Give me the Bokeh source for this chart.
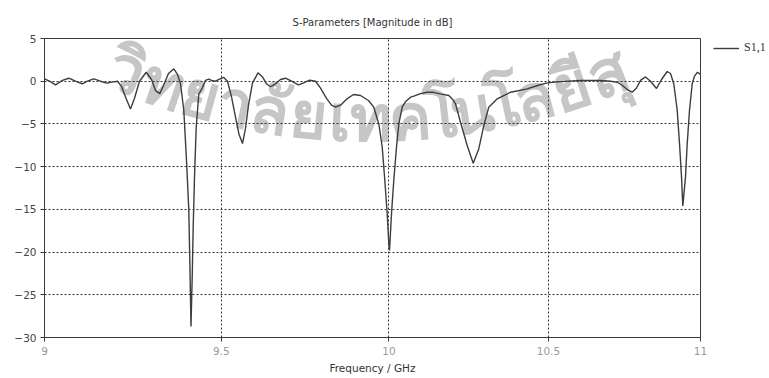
import numpy as np
from bokeh.plotting import figure
from bokeh.models import (FixedTicker, CustomJSTickFormatter, Legend, LegendItem,
                          Range1d, Label)
from bokeh.embed import file_html
from bokeh.resources import INLINE

# S1,1 magnitude (dB) versus frequency (GHz)
freq_ghz = [9.0000, 9.0138, 9.0303, 9.0497, 9.0672, 9.0858, 9.1044, 9.1192, 9.1368, 9.1555,
            9.1732, 9.1864, 9.2032, 9.2145, 9.2272, 9.2399, 9.2512, 9.2654, 9.2844, 9.2995,
            9.3109, 9.3231, 9.3337, 9.3480, 9.3631, 9.3737, 9.3823, 9.3918, 9.3996, 9.4062,
            9.4091, 9.4125, 9.4160, 9.4188, 9.4226, 9.4275, 9.4350, 9.4448, 9.4544, 9.4639,
            9.4746, 9.4833, 9.4949, 9.5066, 9.5182, 9.5298, 9.5415, 9.5517, 9.5620, 9.5708,
            9.5795, 9.5913, 9.6074, 9.6207, 9.6324, 9.6442, 9.6590, 9.6738, 9.6886, 9.7064,
            9.7272, 9.7421, 9.7600, 9.7779, 9.7929, 9.8109, 9.8259, 9.8379, 9.8530, 9.8711,
            9.8922, 9.9134, 9.9377, 9.9538, 9.9691, 9.9795, 9.9874, 9.9947, 9.9996, 10.0018,
            10.0079, 10.0149, 10.0232, 10.0303, 10.0407, 10.0508, 10.0662, 10.0764, 10.0971, 10.1178,
            10.1373, 10.1590, 10.1849, 10.1964, 10.2058, 10.2214, 10.2423, 10.2612, 10.2788, 10.2945,
            10.3102, 10.3368, 10.3789, 10.4321, 10.4650, 10.4961, 10.5389, 10.6036, 10.6686, 10.7013,
            10.7233, 10.7407, 10.7571, 10.7726, 10.7868, 10.8000, 10.8165, 10.8331, 10.8530, 10.8696,
            10.8885, 10.8995, 10.9105, 10.9219, 10.9296, 10.9363, 10.9406, 10.9497, 10.9554, 10.9631,
            10.9721, 10.9798, 10.9899, 11.0000]

s11_db = [0.28, 0.0, -0.42, 0.1, 0.35, 0.0, -0.3, 0.0, 0.28, 0.0,
          -0.23, -0.1, 0.0, -0.6, -2.0, -3.25, -2.0, 0.0, 1.05, 0.2,
          -1.1, -1.45, -0.5, 0.9, 1.45, 0.8, -0.3, -3.4, -9.3, -15.1,
          -21.0, -28.7, -22.9, -17.1, -11.2, -5.4, -1.5, -0.8, 0.1, 0.25,
          0.05, 0.0, 0.25, 0.45, 0.0, -1.8, -4.2, -6.2, -7.3, -5.5,
          -2.8, -0.2, 0.98, 0.5, -0.3, -0.65, -0.3, 0.2, 0.35, 0.0,
          -0.42, -0.2, 0.12, 0.0, -0.8, -2.0, -2.8, -3.04, -2.8, -2.1,
          -1.55, -1.67, -2.26, -3.04, -5.0, -7.7, -11.6, -15.5, -19.0, -19.8,
          -15.5, -11.6, -7.7, -5.0, -3.04, -2.4, -1.87, -1.75, -1.45, -1.29,
          -1.3, -1.48, -1.67, -2.1, -2.65, -4.8, -7.53, -9.6, -7.9, -5.19,
          -3.04, -2.06, -1.29, -0.89, -0.5, -0.2, -0.05, 0.08, 0.08, 0.0,
          -0.12, -0.5, -1.0, -1.29, -0.8, 0.1, 0.5, 0.0, -0.85, 0.2,
          1.14, 0.9, -0.3, -3.4, -7.3, -11.2, -14.6, -11.2, -7.3, -3.4,
          -0.3, 0.6, 1.05, 0.8]

x_ticks = [9, 9.5, 10, 10.5, 11]
y_ticks = [5, 0, -5, -10, -15, -20, -25, -30]
series_name = "S1,1"
title_text = "S-Parameters [Magnitude in dB]"
x_label = "Frequency / GHz"
watermark_text = ["ม", "ห", "า", "วิ", "ท", "ย", "า", "ลั", "ย", "เ", "ท", "ค",
                  "โ", "น", "โ", "ล", "ยี", "สุ", "ร", "น", "า", "รี"]

FONT = "DejaVu Sans"
X0, X1, Y0, Y1 = 9.0, 11.0, -30.0, 5.0
FL, FR, FT, FB = 44, 700, 38, 337          # frame edges in page pixels
W, H = 768, 377

p = figure(frame_width=FR - FL, frame_height=FB - FT, x_axis_type="log",
           x_range=Range1d(X0, X1), y_range=Range1d(Y0, Y1),
           output_backend="svg", toolbar_location=None,
           min_border_left=FL, min_border_right=W - FR,
           min_border_top=FT, min_border_bottom=H - FB,
           title=title_text)

p.background_fill_color = "white"
p.border_fill_color = "white"
p.outline_line_color = "#3a3a3a"
p.outline_line_width = 1

# ---- light watermark of the source document (behind grid and curve) ----
widths = np.array([1.0 if c[0] not in "าเโ" else (0.8 if c[0] == "า" else 0.6)
                   for c in watermark_text])
cum = np.cumsum(widths) - widths / 2
cx, cy, rad = 370.0, -523.0, 639.0
th0 = np.arcsin((14 - cx) / rad)
unit = 39.0
for ch, s in zip(watermark_text, cum):
    th = th0 + s * unit / rad
    gx = cx + rad * np.sin(th)
    gy = cy + rad * np.cos(th)
    if gx < FL + 40 or gx > FR - 40 or gy < FT + 18:
        continue
    p.add_layout(Label(x=float(gx - FL), y=float(FB - gy), x_units="screen", y_units="screen",
                       text=ch, angle=float(th),
                       text_align="center", text_baseline="middle",
                       text_font="Noto Sans", text_font_size="64px",
                       text_font_style="bold", text_color="#c6c6c6",
                       text_alpha=1.0, level="image"))

# ---- title ----
p.title.align = "center"
p.title.text_font = FONT
p.title.text_font_size = "10px"
p.title.text_font_style = "normal"
p.title.text_color = "#333333"
p.title.standoff = 22

# ---- x axis (logarithmic frequency axis) ----
xt = FixedTicker(ticks=x_ticks, minor_ticks=[])
xax = p.xaxis[0]
xax.ticker = xt
xax.formatter = CustomJSTickFormatter(code="return tick.toString();")
xax.axis_line_color = "#3a3a3a"
xax.major_tick_line_color = "#3a3a3a"
xax.major_tick_out = 4
xax.major_tick_in = 0
xax.minor_tick_line_color = None
xax.major_label_text_font = FONT
xax.major_label_text_font_size = "10.5px"
xax.major_label_text_color = "#999999"
xax.major_label_standoff = 5
xax.axis_label = x_label
xax.axis_label_text_font = FONT
xax.axis_label_text_font_size = "10.5px"
xax.axis_label_text_font_style = "normal"
xax.axis_label_text_color = "#333333"
xax.axis_label_standoff = 4

# ---- y axis ----
yt = FixedTicker(ticks=y_ticks, minor_ticks=[])
yax = p.yaxis[0]
yax.ticker = yt
yax.axis_line_color = "#3a3a3a"
yax.major_tick_line_color = "#3a3a3a"
yax.major_tick_out = 4
yax.major_tick_in = 0
yax.minor_tick_line_color = None
yax.major_label_text_font = FONT
yax.major_label_text_font_size = "10.5px"
yax.major_label_text_color = "#444444"
yax.major_label_standoff = 4

# ---- dotted grid ----
p.xgrid.ticker = xt
p.ygrid.ticker = yt
for g in (p.xgrid[0], p.ygrid[0]):
    g.grid_line_color = "#333333"
    g.grid_line_dash = "2 2"
    g.grid_line_width = 1
    g.grid_line_alpha = 1.0

# ---- data ----
r = p.line(freq_ghz, s11_db, line_color="#3d3d3d", line_width=1.4)

legend = Legend(items=[LegendItem(label=series_name, renderers=[r])],
                location=(13, 282), orientation="vertical",
                glyph_width=26, glyph_height=10, label_standoff=5,
                padding=2, margin=0, spacing=0,
                border_line_color=None, background_fill_alpha=0)
legend.label_text_font = "Liberation Serif"
legend.label_text_font_size = "12px"
legend.label_text_color = "#333333"
p.add_layout(legend, "right")

open("out.html", "w").write(file_html(p, INLINE))
